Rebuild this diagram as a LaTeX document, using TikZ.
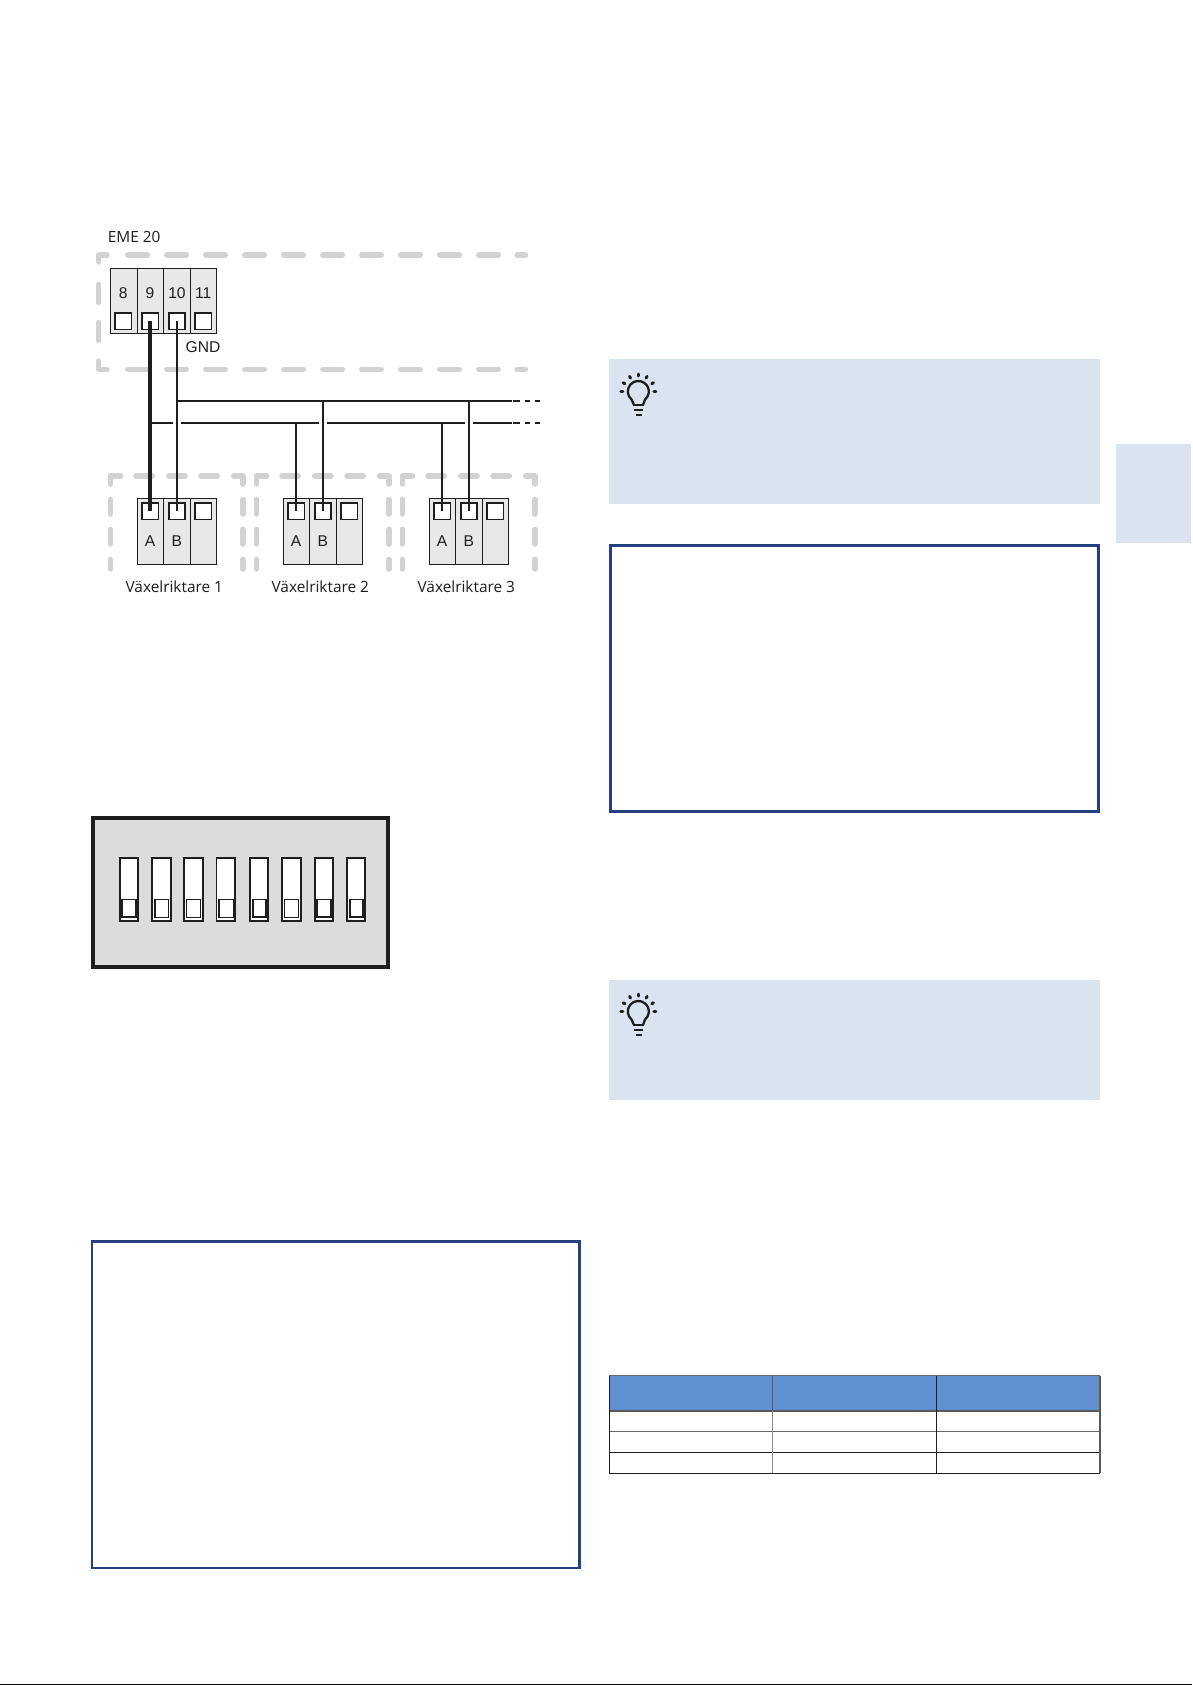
\documentclass[tikz,border=0pt]{standalone}
\usepackage{fontspec}
\setmainfont{Open Sans}
\newfontfamily\arialfont{Liberation Sans}
\usetikzlibrary{calc}
\definecolor{dashgrey}{HTML}{D2D2D2}
\definecolor{termfill}{HTML}{E8E8E8}
\definecolor{tipblue}{HTML}{D9E4F0}
\definecolor{framenavy}{HTML}{24407E}
\definecolor{headblue}{HTML}{5F90D2}
\definecolor{dipgrey}{HTML}{DCDCDC}
\definecolor{ink}{HTML}{1E1E1E}
\tikzset{
  dashline/.style={draw=dashgrey,line width=5.5pt,line cap=round,line join=round},
  termbody/.style={draw=ink,line width=1pt,fill=termfill},
  termdiv/.style={draw=ink,line width=0.9pt},
  termsq/.style={draw=ink,line width=1.7pt,fill=white,minimum width=16.3pt,minimum height=16.3pt,inner sep=0pt,rectangle},
  arlabel/.style={font=\arialfont\fontsize{15.6}{17}\selectfont,text=ink,inner sep=0pt},
  oslabel/.style={font=\fontsize{15.4}{17}\selectfont,text=ink,inner sep=0pt},
  wire/.style={draw=ink,line width=2pt},
  thickwire/.style={draw=ink,line width=3.6pt},
  frameline/.style={draw=framenavy,line width=2.3pt},
  iconline/.style={draw=ink,line width=2.3pt,line cap=round},
  raytick/.style={draw=ink,line width=3pt,line cap=round},
  tablegrid/.style={draw=ink,line width=1.1pt},
  tablesoft/.style={draw=black!45,line width=1.1pt},
}
\begin{document}
\begin{tikzpicture}[x=1pt,y=-1pt]
\useasboundingbox (0,0) rectangle (1192,1685);
\fill[white] (0,0) rectangle (1192,1685);

% right tab and tip boxes
\fill[tipblue] (1116,444) rectangle (1190.5,543);
\fill[tipblue] (609,359) rectangle (1100,504);
\fill[tipblue] (609,980) rectangle (1100,1099.5);

% frames
\draw[frameline] (610.6,545.6) rectangle (1098.6,811.6);
\draw[frameline] (91.8,1241.6) rectangle (579.6,1568.2);

% bulb icons
\foreach \dy in {0,620}{
  \begin{scope}[shift={(0,\dy)}]
    \coordinate (bulbc) at (638.3,391.5);
    \foreach \a in {0,30,60,90,120,150,180}
      \draw[raytick] ($(bulbc)+(\a:15.5pt)$) -- ($(bulbc)+(\a:17.5pt)$);
    \draw[iconline,line join=round] (634,405) -- (631.55,399.5)
       arc[start angle=230,end angle=-50,x radius=10.5pt,y radius=10.5pt]
       -- (643,405);
    \draw[iconline,line cap=butt] (632.7,405) -- (644.3,405);
    \draw[iconline,line cap=butt] (634.3,410) -- (643.3,410);
    \draw[iconline,line cap=butt] (635.7,415) -- (641.7,415);
  \end{scope}
}

% EME 20 dashed enclosure
\node[oslabel,anchor=center] (emelabel) at (134.2,236.7) {EME 20};
\draw[dashline] (98.5,262) -- (98.5,255) -- (107,255);
\draw[dashline] (98.5,361) -- (98.5,369.5) -- (107,369.5);
\draw[dashline] (98.5,284.5) -- (98.5,302.5);
\draw[dashline] (98.5,322.5) -- (98.5,340.5);
\foreach \i in {0,...,9}{
  \draw[dashline] ({127.8+39*\i},255) -- ({147.3+39*\i},255);
  \draw[dashline] ({127.8+39*\i},369.5) -- ({147.3+39*\i},369.5);
}
\draw[dashline] (517.1,255) -- (525.5,255);
\draw[dashline] (517.1,369.5) -- (525.5,369.5);

% EME terminal block
\draw[termbody] (110.7,269) rectangle (216.5,333.5);
\foreach \x in {137.7,163.5,190.3}
  \draw[termdiv] (\x,269) -- (\x,333.5);
\node[termsq] (t8) at (123.4,321.2) {};
\node[termsq] (t9) at (150.2,321.2) {};
\node[termsq] (t10) at (176.8,321.2) {};
\node[termsq] (t11) at (203.4,321.2) {};
\node[arlabel] (n8) at (123.3,293.3) {8};
\node[arlabel] (n9) at (150,293.3) {9};
\node[arlabel] (n10) at (177,293.3) {10};
\node[arlabel] (n11) at (203.3,293.3) {11};
\node[arlabel] (gnd) at (203,346.7) {GND};

% inverters
\foreach \i/\off/\name in {1/0/Växelriktare 1,2/146/Växelriktare 2,3/292/Växelriktare 3}{
  \begin{scope}[shift={(\off,0)}]
    % dashed enclosure
    \draw[dashline] (110.3,484) -- (110.3,476) -- (120.6,476);
    \draw[dashline] (233.7,476) -- (242.8,476) -- (242.8,484);
    \foreach \x in {136,168.8,201}
      \draw[dashline] (\x,476) -- ({\x+16.2},476);
    \foreach \x in {110.3,242.8}{
      \draw[dashline] (\x,499.4) -- (\x,514);
      \draw[dashline] (\x,529.4) -- (\x,544);
      \draw[dashline] (\x,559.4) -- (\x,569);
    }
    % terminal block
    \draw[termbody] (137.5,498.5) rectangle (216.7,564);
    \draw[termdiv] (163.5,498.5) -- (163.5,564);
    \draw[termdiv] (190.3,498.5) -- (190.3,564);
    \node[termsq] (a\i) at (150.2,511.2) {};
    \node[termsq] (b\i) at (176.8,511.2) {};
    \node[termsq] (c\i) at (203.4,511.2) {};
    \node[arlabel] (la\i) at (150,540.7) {A};
    \node[arlabel] (lb\i) at (176.7,540.7) {B};
    \node[oslabel] (inv\i) at (174.3,586.7) {\name};
  \end{scope}
}

% bus coordinates
\coordinate (busA) at (0,422.7);
\coordinate (busB) at (0,401);
\coordinate (busEnd) at (511.7,0);

% bus B (upper)
\draw[wire] (b1.center |- busB) -- (busEnd |- busB);
% bus A (lower), broken where the B drops cross it
\draw[wire] (a1.center |- busA) -- ([xshift=-4pt]b1.center |- busA);
\draw[wire] ([xshift=4pt]b1.center |- busA) -- ([xshift=-4pt]b2.center |- busA);
\draw[wire] ([xshift=4pt]b2.center |- busA) -- ([xshift=-4pt]b3.center |- busA);
\draw[wire] ([xshift=4pt]b3.center |- busA) -- (busEnd |- busA);
% dashed bus continuation
\foreach \l in {busA,busB}{
  \draw[wire] (513.3,0 |- \l) -- (520,0 |- \l);
  \draw[wire] (525,0 |- \l) -- (530,0 |- \l);
  \draw[wire] (535,0 |- \l) -- (540,0 |- \l);
}
% drops
\draw[thickwire] (t9.center) -- (a1.center);
\draw[wire] (t10.center) -- (b1.center);
\draw[wire] (a2.center |- busA) -- (a2.center);
\draw[wire] (b2.center |- busB) -- (b2.center);
\draw[wire] (a3.center |- busA) -- (a3.center);
\draw[wire] (b3.center |- busB) -- (b3.center);

% DIP switch
\draw[draw=ink,fill=dipgrey,line width=3.6pt] (92.8,817.8) rectangle (388.2,967.2);
\foreach \l/\r/\kl/\kr/\kw/\ow in {
  119/139/121.9/135.8/1.7/1.5,
  151/171.7/155/168.3/1.1/1.7,
  183/203.7/186.7/200/0.9/1.7,
  216/235.7/219/233.3/1.6/1.3,
  249/268.7/253/266/1.8/1.7,
  281/301.7/284.7/298/0.9/1.7,
  314/333.7/317/331/1.7/1.5,
  346/366/349.7/363/1.7/1.5}{
  \draw[draw=ink,fill=white,line width=\ow pt] (\l+0.8,858.1) rectangle (\r-0.8,920.9);
  \draw[draw=ink,fill=white,line width=\kw pt] (\kl,899.5) rectangle (\kr,917.3);
}

% table
\fill[headblue] (609.3,1375.7) rectangle (1100,1411);
\draw[tablegrid,draw=black!60] (609.3,1375.7) -- (1100,1375.7);
\draw[tablegrid,draw=black!65,line width=1.5pt] (609.3,1411) -- (1100,1411);
\draw[tablegrid,draw=black!60] (609.3,1431.7) -- (1100,1431.7);
\draw[tablegrid] (609.3,1452.3) -- (1100,1452.3);
\draw[tablegrid] (609.3,1473.3) -- (1100,1473.3);
\draw[tablegrid] (609.3,1375.7) -- (609.3,1473.3);
\draw[tablegrid,draw=black!65] (1100,1375.7) -- (1100,1473.3);
\draw[tablegrid,draw=black!65] (772.7,1375.7) -- (772.7,1411);
\draw[tablesoft] (772.7,1411) -- (772.7,1473.3);
\draw[tablegrid] (936.7,1375.7) -- (936.7,1473.3);

% bottom rule
\fill[black] (0,1683.7) rectangle (1192,1685);
\end{tikzpicture}
\end{document}
